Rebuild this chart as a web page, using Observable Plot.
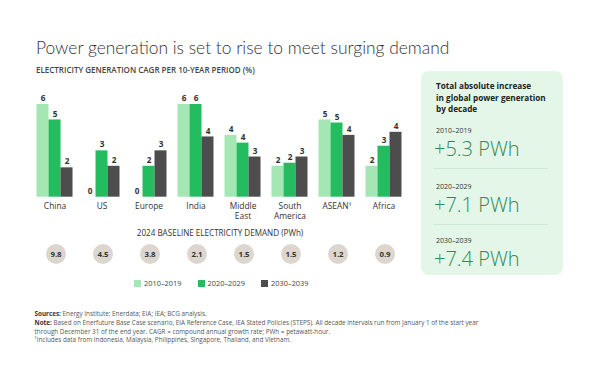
<!DOCTYPE html>
<html>
<head>
<meta charset="utf-8">
<script src="https://cdn.jsdelivr.net/npm/d3@7"></script>
<script src="https://cdn.jsdelivr.net/npm/@observablehq/plot@0.6"></script>
<style>
  html, body { margin: 0; padding: 0; background: #fff; }
  #root { position: relative; width: 600px; height: 384px; overflow: hidden; font-family: "Open Sans", sans-serif; }
  #root > * { position: absolute; }
  div .lg-swatch { margin-right: 16px !important; color: #444; }
  div .lg-swatch > svg { margin-right: 3px !important; }
</style>
</head>
<body>
<div id="root"></div>
<script>
// ---------- data ----------
const regions = ["China", "US", "Europe", "India", "Middle East", "South America", "ASEAN¹", "Africa"];
const periods = ["2010–2019", "2020–2029", "2030–2039"];
const cagr2010 = [6.0, 0.0, 0.0, 6.0, 4.0, 2.0, 5.0, 2.0];
const cagr2020 = [5.0, 3.0, 2.0, 6.0, 3.5, 2.2, 4.8, 3.3];
const cagr2030 = [1.9, 2.0, 3.0, 3.9, 2.6, 2.6, 4.0, 4.2];
const demand2024 = [9.8, 4.5, 3.8, 2.1, 1.5, 1.5, 1.2, 0.9];
const totalIncrease = [5.3, 7.1, 7.4];
const periodColors = ["#a4e7b5", "#23bd5f", "#4d4d4d"];

const title = "Power generation is set to rise to meet surging demand";
const subtitle = "ELECTRICITY GENERATION CAGR PER 10-YEAR PERIOD (%)";
const demandTitle = "2024 BASELINE ELECTRICITY DEMAND (PWh)";
const panelTitle = ["Total absolute increase", "in global power generation", "by decade"];
const notes = [
  [["Sources: ", true], ["Energy Institute; Enerdata; EIA; IEA; BCG analysis.", false]],
  [["Note: ", true], ["Based on Enerfuture Base Case scenario, EIA Reference Case, IEA Stated Policies (STEPS). All decade intervals run from January 1 of the start year", false]],
  [["through December 31 of the end year. CAGR = compound annual growth rate; PWh = petawatt-hour.", false]],
  [["¹Includes data from Indonesia, Malaysia, Philippines, Singapore, Thailand, and Vietnam.", false]]
];

const series = [cagr2010, cagr2020, cagr2030];
const rows = regions.flatMap((r, i) => periods.map((p, j) => ({region: r, period: p, value: series[j][i]})));
const demandRows = regions.map((r, i) => ({region: r, demand: demand2024[i]}));

const root = document.getElementById("root");

// ---------- overlay (title, panel, footer) ----------
const svg = d3.create("svg").attr("width", 600).attr("height", 384)
  .style("left", "0px").style("top", "0px")
  .style("font-family", "'Open Sans', sans-serif");

svg.append("text").attr("x", 36).attr("y", 54)
  .attr("font-size", 17.4).attr("font-weight", 300).attr("fill", "#333")
  .attr("font-family", "Lato, 'Open Sans', sans-serif")
  .text(title);
svg.append("text").attr("x", 36).attr("y", 73.3)
  .attr("font-size", 8).attr("font-weight", 600).attr("fill", "#444")
  .text(subtitle);

svg.append("text").attr("x", 220).attr("y", 236).attr("text-anchor", "middle")
  .attr("font-size", 8.1).attr("fill", "#333")
  .text(demandTitle);

// panel
const panel = svg.append("g");
panel.append("rect").attr("x", 421).attr("y", 71).attr("width", 142).attr("height", 204)
  .attr("rx", 8).attr("fill", "#e4f6e8");
panelTitle.forEach((t, i) => {
  panel.append("text").attr("x", 436).attr("y", 89 + i * 11.5)
    .attr("font-size", 8.2).attr("font-weight", 700).attr("fill", "#222").text(t);
});
const blockY = [133, 189, 243];
periods.forEach((p, i) => {
  panel.append("text").attr("x", 436).attr("y", blockY[i])
    .attr("font-size", 7).attr("fill", "#333").text(p);
  panel.append("text").attr("x", 434).attr("y", blockY[i] + 23)
    .attr("font-size", 20).attr("font-weight", 300).attr("fill", "#2e8a5c")
    .text("+" + totalIncrease[i].toFixed(1) + " PWh");
  if (i < 2) {
    panel.append("line").attr("x1", 433).attr("x2", 548)
      .attr("y1", blockY[i] + 35.5).attr("y2", blockY[i] + 35.5)
      .attr("stroke", "#cbe9d3").attr("stroke-width", 1);
  }
});

// footer
const noteY = [316, 325, 333.6, 342.2];
notes.forEach((line, i) => {
  const t = svg.append("text").attr("x", 34.5).attr("y", noteY[i])
    .attr("font-size", 6.33).attr("fill", "#555");
  line.forEach(([s, b]) => {
    t.append("tspan").attr("font-weight", b ? 700 : 400).attr("fill", b ? "#333" : "#555").text(s);
  });
});
root.appendChild(svg.node());

// ---------- bar chart ----------
const bars = Plot.plot({
  width: 420, height: 144.7,
  marginTop: 24, marginBottom: 28, marginLeft: 35.5, marginRight: 17.8,
  style: {background: "transparent", fontFamily: "'Open Sans', sans-serif", overflow: "visible"},
  fx: {domain: regions, paddingInner: 0.214, paddingOuter: 0, label: null},
  x: {domain: periods, padding: 0, axis: null},
  y: {domain: [0, 6], axis: null},
  color: {domain: periods, range: periodColors},
  marks: [
    Plot.barY(rows, {fx: "region", x: "period", y: "value", fill: "period", insetLeft: 0, insetRight: 0}),
    Plot.text(rows, {fx: "region", x: "period", y: "value", text: d => String(Math.round(d.value)),
      dy: -6, fontSize: 8.2, fontWeight: 700, fill: "#333"}),
    Plot.axisFx({anchor: "bottom", tickSize: 0, tickPadding: 5, fontSize: 8.4, lineHeight: 1.17,
      fill: "#333", label: null, tickFormat: d => d.replace(" ", "\n")})
  ]
});
bars.style.left = "0px";
bars.style.top = "80px";
root.appendChild(bars);

// ---------- demand circles ----------
const dots = Plot.plot({
  width: 420, height: 27,
  margin: 0, marginLeft: 35.5, marginRight: 17.8,
  style: {background: "transparent", fontFamily: "'Open Sans', sans-serif", overflow: "visible"},
  x: {type: "band", domain: regions, paddingInner: 0.214, paddingOuter: 0, axis: null},
  marks: [
    Plot.dot(demandRows, {x: "region", r: 10, fill: "#ddd6cf", stroke: null}),
    Plot.text(demandRows, {x: "region", text: d => d.demand.toFixed(1), fontSize: 7.8, fontWeight: 700, fill: "#333"})
  ]
});
dots.style.left = "1px";
dots.style.top = "240px";
root.appendChild(dots);

// ---------- legend ----------
const legend = Plot.legend({
  color: {domain: periods, range: periodColors},
  legend: "swatches", swatchSize: 7, className: "lg",
  style: {fontSize: "7.4px", fontFamily: "'Open Sans', sans-serif", color: "#444"}
});
legend.style.left = "134px";
legend.style.top = "266.5px";
legend.style.margin = "0";
root.appendChild(legend);
</script>
</body>
</html>
